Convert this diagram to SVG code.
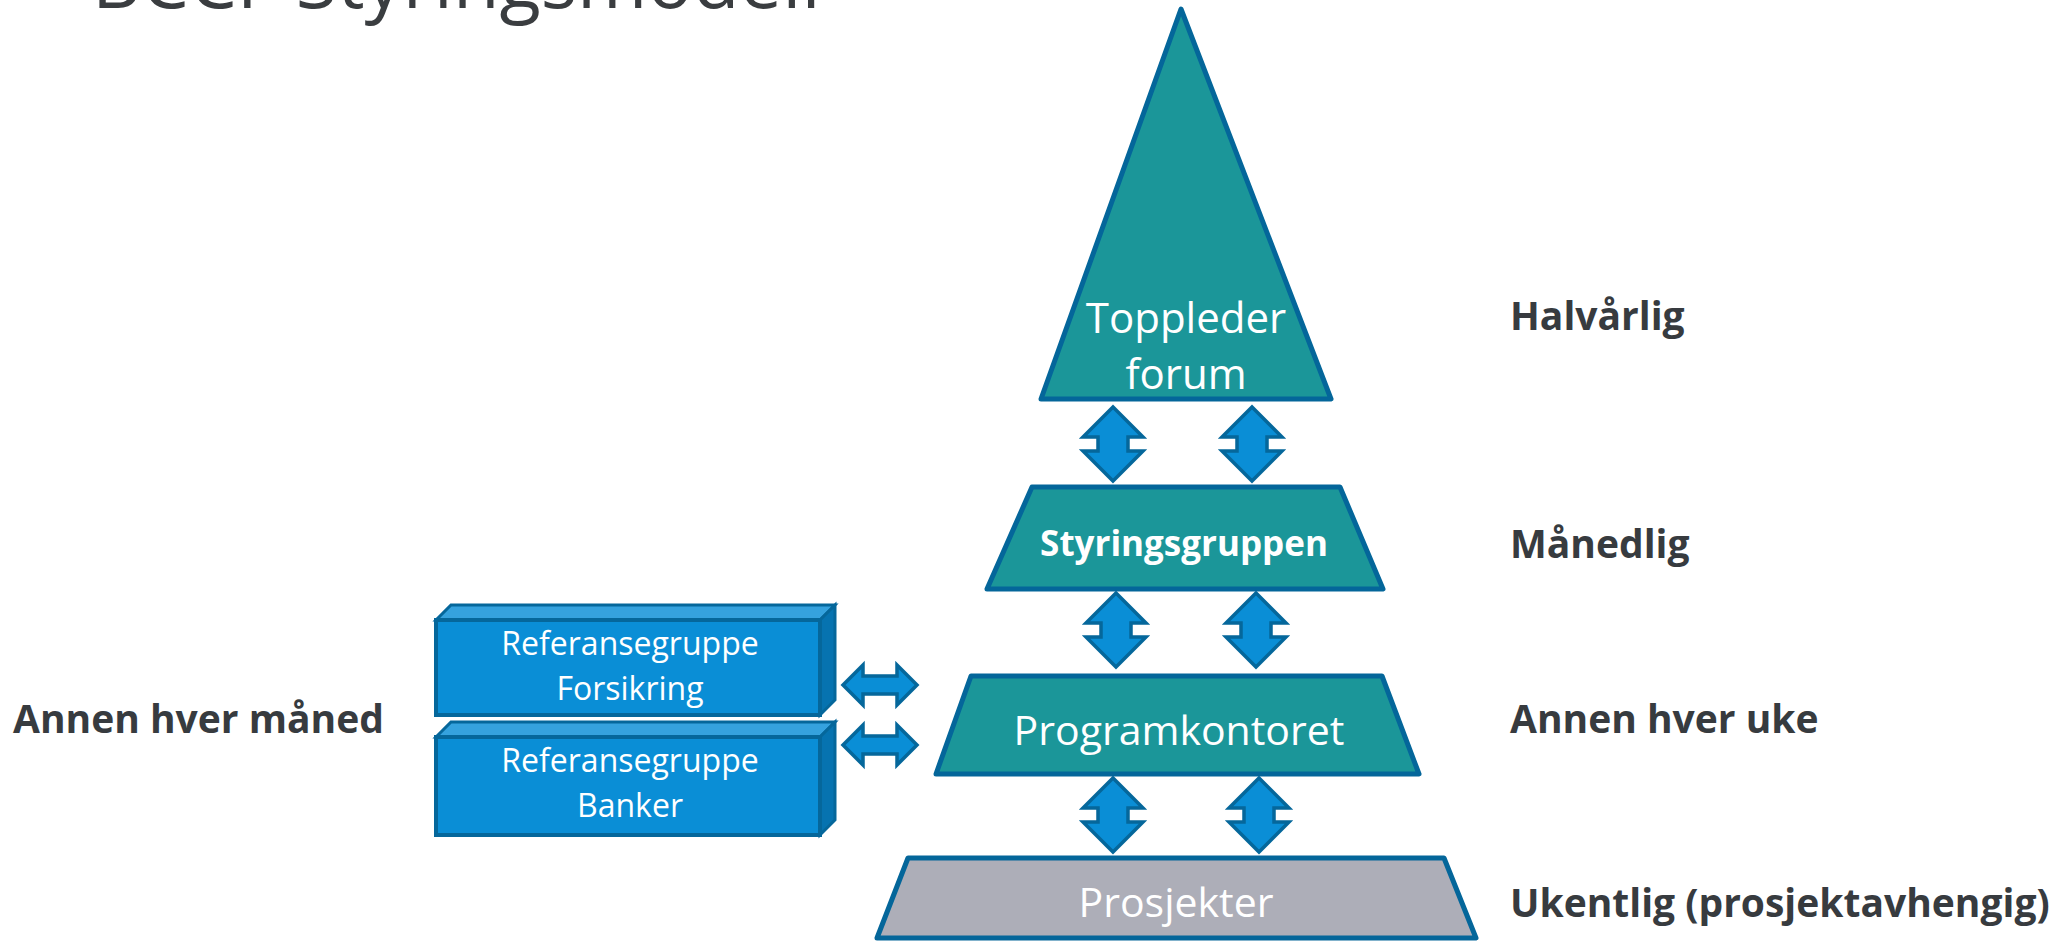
<svg xmlns="http://www.w3.org/2000/svg" width="2064" height="941" viewBox="0 0 2064 941">
  <style>
    .lvl { fill: #1b9699; stroke: #04669a; stroke-width: 5; stroke-linejoin: round; }
    .proj { fill: #adaeb8; stroke: #04669a; stroke-width: 5; stroke-linejoin: round; }
    .arr { fill: #0a8ed6; stroke: #05679b; stroke-width: 3.5; stroke-linejoin: miter; }
    .front { fill: #0a8ed6; stroke: #05679b; stroke-width: 4; }
    .top { fill: #35a2de; stroke: #05679b; stroke-width: 3; }
    .side { fill: #0673b0; stroke: #05679b; stroke-width: 3; }
    .wt { font-family: "Open Sans", "DejaVu Sans", sans-serif; fill: #ffffff; text-anchor: middle; }
    .lbl { font-family: "Open Sans", "DejaVu Sans", sans-serif; font-weight: bold; font-size: 39px; fill: #373b3f; }
  </style>
  <defs>
    <path id="vArrow" d="M0,-37 L30,-7 L15,-7 L15,7 L30,7 L0,37 L-30,7 L-15,7 L-15,-7 L-30,-7 Z"/>
    <path id="hArrow" d="M-37,0 L-17,-20 L-17,-9 L17,-9 L17,-20 L37,0 L17,20 L17,9 L-17,9 L-17,20 Z"/>
  </defs>
  <rect width="2064" height="941" fill="#ffffff"/>

  <text x="92" y="8" font-family="Open Sans, DejaVu Sans, sans-serif" font-size="76" fill="#3a3d40">BCCF Styringsmodell</text>

  <g id="toppleder">
    <polygon class="lvl" points="1181,9 1331,399 1041,399"/>
    <text class="wt" x="1186" y="333" font-size="42">Toppleder</text>
    <text class="wt" x="1186" y="389" font-size="42">forum</text>
  </g>

  <g id="styringsgruppen">
    <polygon class="lvl" points="1032,487 1340,487 1383,589 987,589"/>
    <text class="wt" x="1184" y="556" font-size="35" font-weight="bold" fill="#eef0f2">Styringsgruppen</text>
  </g>

  <g id="programkontoret">
    <polygon class="lvl" points="971,676 1382,676 1419,774 936,774"/>
    <text class="wt" x="1179" y="745" font-size="41">Programkontoret</text>
  </g>

  <g id="prosjekter">
    <polygon class="proj" points="908,858 1444,858 1476,938 877,938"/>
    <text class="wt" x="1176" y="917" font-size="41" fill="#e4e5ea">Prosjekter</text>
  </g>

  <g id="ref-forsikring">
    <polygon class="top" points="436,620 451,605 835,605 820,620"/>
    <polygon class="side" points="820,620 835,605 835,700 820,715"/>
    <rect class="front" x="436" y="620" width="384" height="95"/>
    <text class="wt" x="630" y="655" font-size="32" fill="#eef3f7">Referansegruppe</text>
    <text class="wt" x="630" y="700" font-size="32" fill="#eef3f7">Forsikring</text>
  </g>

  <g id="ref-banker">
    <polygon class="top" points="436,737 451,722 835,722 820,737"/>
    <polygon class="side" points="820,737 835,722 835,820 820,835"/>
    <rect class="front" x="436" y="737" width="384" height="98"/>
    <text class="wt" x="630" y="772" font-size="32" fill="#eef3f7">Referansegruppe</text>
    <text class="wt" x="630" y="817" font-size="32" fill="#eef3f7">Banker</text>
  </g>

  <g id="connectors">
    <use href="#vArrow" class="arr" x="1113" y="444"/>
    <use href="#vArrow" class="arr" x="1252" y="444"/>
    <use href="#vArrow" class="arr" x="1116" y="630"/>
    <use href="#vArrow" class="arr" x="1256" y="630"/>
    <use href="#vArrow" class="arr" x="1113" y="815"/>
    <use href="#vArrow" class="arr" x="1259" y="815"/>
    <use href="#hArrow" class="arr" x="880" y="685"/>
    <use href="#hArrow" class="arr" x="880" y="745"/>
  </g>

  <g id="labels">
    <text class="lbl" x="1510" y="330">Halvårlig</text>
    <text class="lbl" x="1510" y="558">Månedlig</text>
    <text class="lbl" x="1510" y="733">Annen hver uke</text>
    <text class="lbl" x="1510" y="917">Ukentlig (prosjektavhengig)</text>
    <text class="lbl" x="13" y="733">Annen hver måned</text>
  </g>
</svg>
